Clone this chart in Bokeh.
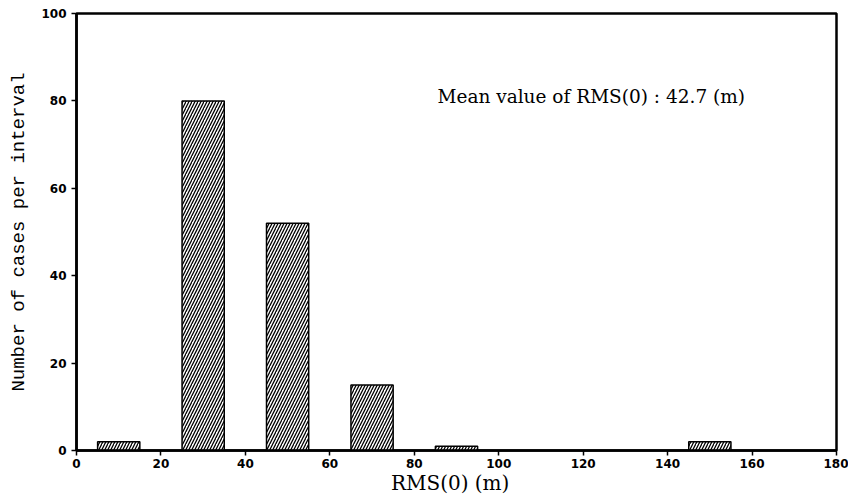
from bokeh.plotting import figure
from bokeh.models import ColumnDataSource, Range1d, FixedTicker, Label
from bokeh.embed import file_html
from bokeh.resources import INLINE

# Data (interval centers, width 10 m)
bin_centers = [10, 30, 50, 70, 90, 150]
cases = [2, 80, 52, 15, 1, 2]
bin_width = 10
x_ticks = [0, 20, 40, 60, 80, 100, 120, 140, 160, 180]
y_ticks = [0, 20, 40, 60, 80, 100]
annotation = "Mean value of RMS(0) : 42.7 (m)"

src = ColumnDataSource(dict(x=bin_centers, top=cases))

p = figure(width=848, height=500, output_backend="svg", toolbar_location=None,
           x_range=Range1d(0, 180), y_range=Range1d(0, 100),
           min_border_left=76, min_border_right=12, min_border_top=13, min_border_bottom=50)

p.vbar(x="x", top="top", width=bin_width, bottom=0, source=src,
       fill_color="white", line_color="black", line_width=1.5,
       hatch_pattern="/", hatch_color="black", hatch_scale=6, hatch_weight=1.3)

p.xgrid.visible = False
p.ygrid.visible = False
p.outline_line_color = "black"
p.outline_line_width = 2.5
p.outline_line_alpha = 1
p.background_fill_color = "white"
p.border_fill_color = "white"

for ax in (p.xaxis[0], p.yaxis[0]):
    ax.axis_line_width = 2.5
    ax.axis_line_color = "black"
    ax.major_tick_line_width = 1.5
    ax.major_tick_in = 0
    ax.major_tick_out = 5
    ax.minor_tick_line_color = None
    ax.major_label_text_font = "DejaVu Sans"
    ax.major_label_text_font_style = "bold"
    ax.major_label_text_font_size = "12px"
    ax.major_label_text_color = "black"
    ax.axis_label_text_font_style = "normal"
    ax.axis_label_text_color = "black"

p.xaxis[0].ticker = FixedTicker(ticks=x_ticks)
p.yaxis[0].ticker = FixedTicker(ticks=y_ticks)
p.xaxis[0].axis_label = "RMS(0)   (m)"
p.xaxis[0].axis_label_text_font = "DejaVu Serif"
p.xaxis[0].axis_label_text_font_size = "20px"
p.yaxis[0].axis_label = "Number of cases per interval"
p.yaxis[0].axis_label_text_font = "Liberation Mono"
p.yaxis[0].axis_label_text_font_size = "19px"
p.xaxis[0].major_label_standoff = 3
p.xaxis[0].axis_label_standoff = 0
p.yaxis[0].major_label_standoff = 5
p.yaxis[0].axis_label_standoff = 8

p.add_layout(Label(x=85.5, y=81, text=annotation, text_font="DejaVu Serif",
                   text_font_size="18.5px", text_baseline="middle", text_align="left",
                   text_color="black"))

open("out.html", "w").write(file_html(p, INLINE))
